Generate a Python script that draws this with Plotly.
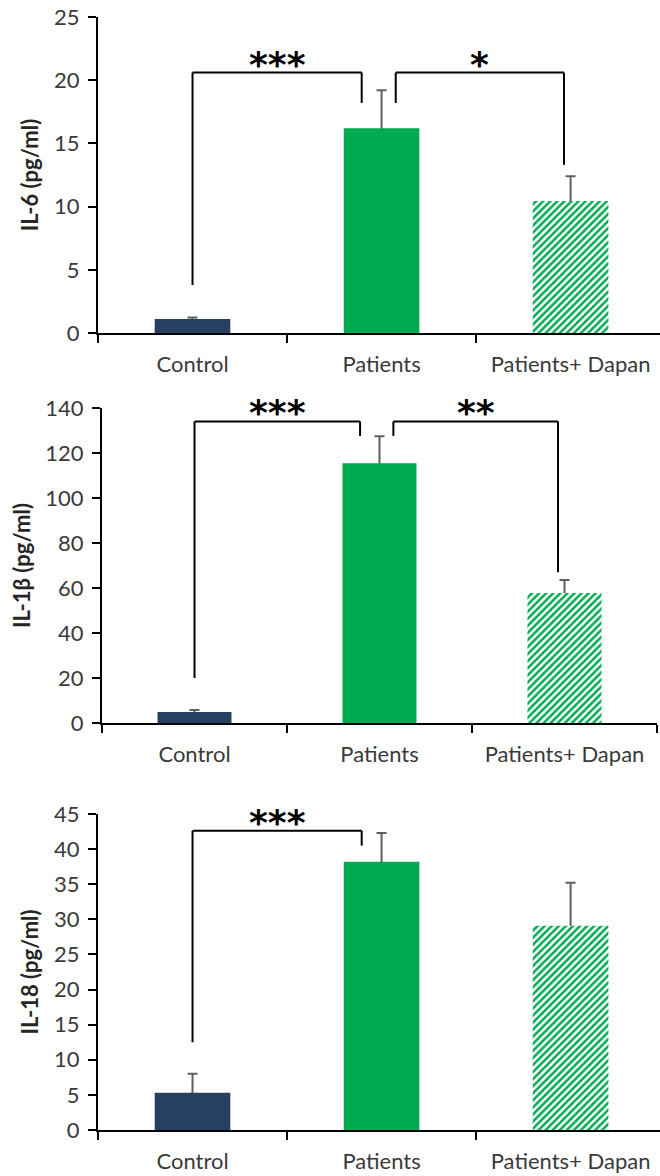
import plotly.graph_objects as go

# ---------------- data ----------------
categories = ["Control", "Patients", "Patients+ Dapan"]

il6_mean = [1.1, 16.2, 10.45]
il6_sem = [0.12, 3.0, 1.95]

il1b_mean = [4.9, 115.5, 57.8]
il1b_sem = [0.9, 12.0, 5.8]

il18_mean = [5.3, 38.2, 29.1]
il18_sem = [2.7, 4.1, 6.1]

y_titles = ["IL-6 (pg/ml)", "IL-1β (pg/ml)", "IL-18 (pg/ml)"]
y_max = [25, 140, 45]
y_dtick = [5, 20, 5]

# significance brackets: (left group, right group, bracket top, left leg end, right leg end, label)
il6_sig = [(0, 1, 20.6, 3.8, 18.2, "***"), (1, 2, 20.6, 18.2, 13.3, "*")]
il1b_sig = [(0, 1, 134, 20, 127.6, "***"), (1, 2, 134, 127.6, 67, "**")]
il18_sig = [(0, 1, 42.6, 12.5, 40.5, "***")]

# ---------------- style ----------------
W, H = 660, 1176
FONT = "Lato"
NAVY = "#264061"
GREEN = "#00AA4F"
ERR = "#5f5f5f"
TICKC = "#3a3a3a"

# pixel geometry of each panel: (x0, x1, ytop, ybottom, xrange_end)
panels = [
    (98, 660, 17, 333, 2.473),
    (102, 657, 408, 723, 2.5),
    (98, 660, 814, 1130, 2.473),
]
LEFT_OFF = {0: 0.0, 1: 0.075}
RIGHT_OFF = {1: -0.105, 2: -0.035}

means = [il6_mean, il1b_mean, il18_mean]
sems = [il6_sem, il1b_sem, il18_sem]
sigs = [il6_sig, il1b_sig, il18_sig]

fig = go.Figure()
shapes = []
annotations = []
layout = {}

for k in range(3):
    xa = "x" if k == 0 else f"x{k+1}"
    ya = "y" if k == 0 else f"y{k+1}"
    xkey = "xaxis" if k == 0 else f"xaxis{k+1}"
    ykey = "yaxis" if k == 0 else f"yaxis{k+1}"
    x0, x1, yt, yb, xend = panels[k]

    # error bars (drawn under the bars, only the upper half stays visible)
    fig.add_trace(go.Bar(
        x=categories, y=means[k], xaxis=xa, yaxis=ya, width=0.4,
        marker=dict(color="rgba(0,0,0,0)", line=dict(width=0)),
        error_y=dict(type="data", array=sems[k], symmetric=True,
                     color=ERR, thickness=2, width=5),
        showlegend=False, hoverinfo="skip",
    ))
    # solid bars
    fig.add_trace(go.Bar(
        x=categories[:2], y=means[k][:2], xaxis=xa, yaxis=ya, width=0.4,
        marker=dict(color=[NAVY, GREEN], line=dict(width=0)),
        showlegend=False,
    ))
    # hatched bar
    fig.add_trace(go.Bar(
        x=categories[2:], y=means[k][2:], xaxis=xa, yaxis=ya, width=0.4,
        marker=dict(
            color=GREEN, line=dict(width=0),
            pattern=dict(shape="/", fillmode="replace", bgcolor="white",
                         fgcolor=GREEN, fgopacity=1, size=5, solidity=0.5),
        ),
        showlegend=False,
    ))

    layout[xkey] = dict(
        domain=[x0 / W, x1 / W], anchor=ya, type="category", automargin=False,
        categoryorder="array", categoryarray=categories,
        range=[-0.5, xend], showline=True, linecolor="black", linewidth=2,
        ticks="outside", tickson="boundaries", ticklen=8, tickwidth=2,
        tickcolor="black", showgrid=False, zeroline=False,
        tickfont=dict(family=FONT, size=22, color=TICKC),
        ticklabelstandoff=11, fixedrange=True,
    )
    layout[ykey] = dict(
        domain=[1 - yb / H, 1 - yt / H], anchor=xa, automargin=False,
        range=[0, y_max[k]], dtick=y_dtick[k], tick0=0,
        showline=True, linecolor="black", linewidth=2,
        ticks="outside", ticklen=8, tickwidth=2, tickcolor="black",
        showgrid=False, zeroline=False,
        tickfont=dict(family=FONT, size=22, color=TICKC),
        ticklabelstandoff=4,
        title=dict(text=y_titles[k], standoff=9,
                   font=dict(family=FONT, size=22, color="#262626", weight="bold")),
        fixedrange=True,
    )

    for (i, j, top, lend, rend, label) in sigs[k]:
        xl = i + LEFT_OFF[i]
        xr = j + RIGHT_OFF[j]
        line = dict(color="black", width=2)
        shapes.append(dict(type="line", xref=xa, yref=ya, x0=xl, x1=xl, y0=lend, y1=top, line=line))
        shapes.append(dict(type="line", xref=xa, yref=ya, x0=xl, x1=xr, y0=top, y1=top, line=line))
        shapes.append(dict(type="line", xref=xa, yref=ya, x0=xr, x1=xr, y0=top, y1=rend, line=line))
        annotations.append(dict(
            x=(xl + xr) / 2, y=top, xref=xa, yref=ya, text=label,
            showarrow=False, yanchor="bottom", yshift=-14,
            font=dict(family="DejaVu Sans", size=36, color="black", weight="bold"),
        ))

fig.update_layout(
    width=W, height=H,
    margin=dict(l=0, r=0, t=0, b=0, autoexpand=False),
    paper_bgcolor="white", plot_bgcolor="white",
    barmode="overlay", showlegend=False,
    shapes=shapes, annotations=annotations,
    **layout,
)

post = ("document.body.style.margin='0';document.body.style.padding='0';"
        "document.body.style.overflow='hidden';"
        "var d=document.getElementById('{plot_id}');"
        "d.style.position='absolute';d.style.left='0px';d.style.top='0px';")

fig.write_html("out.html", config={"displayModeBar": False}, post_script=post)
